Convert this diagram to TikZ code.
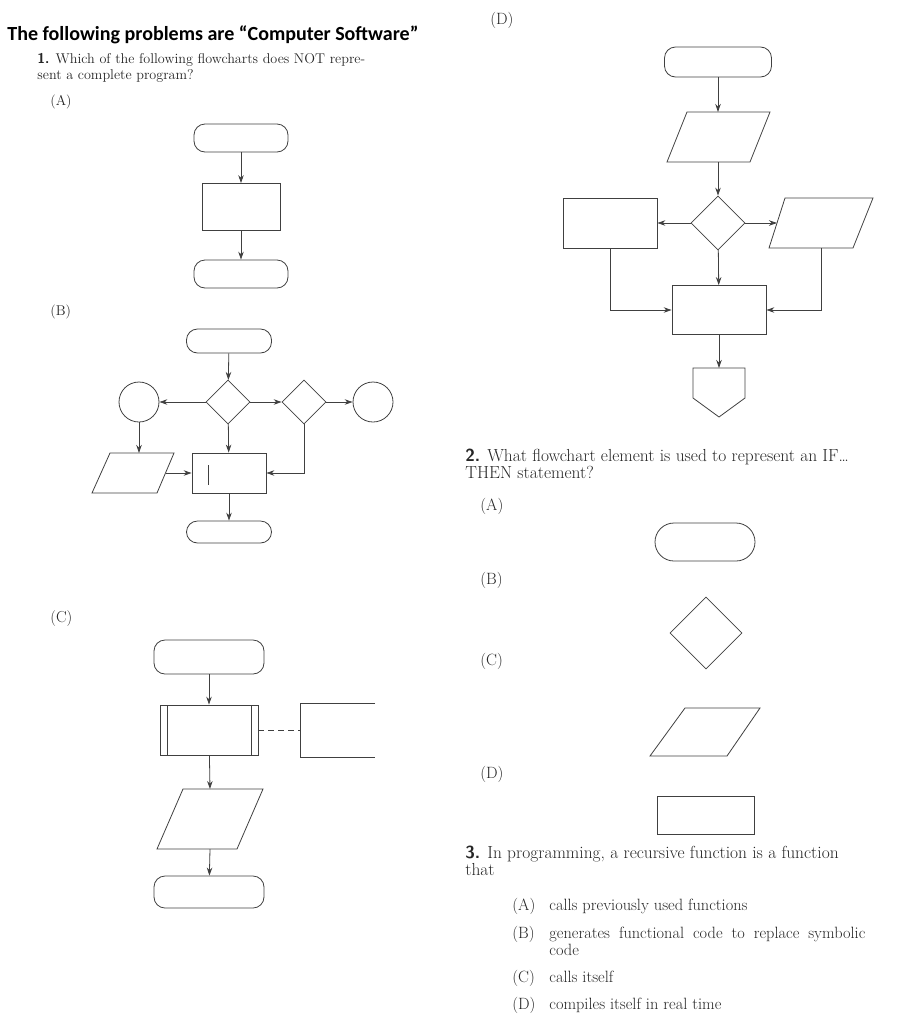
\documentclass[tikz,border=0pt]{standalone}
\usepackage{fontspec}
\newfontfamily\titlefont{Carlito}
\usetikzlibrary{arrows.meta,shapes.geometric}
\begin{document}
\begin{tikzpicture}[x=1bp,y=-1bp,line width=0.8bp,draw=black!75,
  >={Stealth[length=8bp,width=5.5bp]},
  txt/.style={anchor=base west,inner sep=0pt,font=\fontsize{14.2}{16}\selectfont,text=black!85},
  rtxt/.style={anchor=base west,inner sep=0pt,font=\fontsize{16.4}{18}\selectfont,text=black!85},
  qtxt/.style={anchor=base west,inner sep=0pt,font=\fontsize{17.5}{19}\selectfont,text=black!85},
  term/.style={draw,rounded corners=11bp,minimum width=#1,inner sep=0pt},
  box/.style={draw,inner sep=0pt},
  dia/.style={draw,diamond,inner sep=0pt,minimum width=#1,minimum height=#1},
  circ/.style={draw,circle,inner sep=0pt,minimum size=40bp}]
\useasboundingbox (0,0) rectangle (899,1024);
% texts
\node[anchor=base west,inner sep=0pt,font=\titlefont\bfseries\fontsize{20.1}{22}\selectfont] (title) at (7,40) {The following problems are “Computer Software”};
\node[txt] (q1a) at (37,63) {\textsf{\bfseries 1.} Which of the following flowcharts does NOT repre-};
\node[txt] (q1b) at (37,79) {sent a complete program?};
\node[txt] (la) at (50,105) {(A)};
\node[txt] (lb) at (50,315) {(B)};
\node[txt,font=\fontsize{16}{18}\selectfont] (lc) at (50,622) {(C)};
\node[rtxt] (ld) at (490,24) {(D)};
\node[qtxt] (q2a) at (465,461) {\textsf{\bfseries 2.} What flowchart element is used to represent an IF\ldots};
\node[qtxt] (q2b) at (465,478) {THEN statement?};
\node[rtxt] (r2a) at (480,510) {(A)};
\node[rtxt] (r2b) at (480,584) {(B)};
\node[rtxt] (r2c) at (480,665) {(C)};
\node[rtxt] (r2d) at (480,778) {(D)};
\node[qtxt] (q3a) at (465,858) {\textsf{\bfseries 3.} In programming, a recursive function is a function};
\node[qtxt] (q3b) at (465,875) {that};
\node[rtxt] (o1) at (512,910) {\makebox[37bp][l]{(A)}calls previously used functions};
\node[rtxt] (o2) at (512,938) {\makebox[37bp][l]{(B)}\makebox[316bp][s]{generates functional code to replace symbolic}};
\node[rtxt] (o2b) at (549,955) {code};
\node[rtxt] (o3) at (512,982) {\makebox[37bp][l]{(C)}calls itself};
\node[rtxt] (o4) at (512,1009) {\makebox[37bp][l]{(D)}compiles itself in real time};
% (A)
\node[term=94bp,minimum height=28bp] (a1) at (241,138) {};
\node[box,minimum width=78bp,minimum height=47bp] (a2) at (241,207) {};
\node[term=94bp,minimum height=28bp] (a3) at (241,274) {};
\draw[->] (a1) -- (a2); \draw[->] (a2) -- (a3);
% (B)
\node[term=85bp,minimum height=24bp] (b1) at (229,341) {};
\node[dia=44bp] (bd1) at (228,402) {};
\node[dia=44bp] (bd2) at (304,402) {};
\node[circ] (bc1) at (139,402) {};
\node[circ] (bc2) at (373,402) {};
\node[box,minimum width=74bp,minimum height=40bp] (br) at (229,473) {};
\node[term=85bp,minimum height=22bp] (b2) at (229,532) {};
\draw (92,493) -- (110,453) -- (174,453) -- (157,493) -- cycle;
\draw (208,465) -- (208,485);
\draw[->] (b1) -- (bd1);
\draw[->] (bd1) -- (bc1);
\draw[->] (bd1) -- (bd2);
\draw[->] (bd2) -- (bc2);
\draw[->] (bd1) -- (br);
\draw[->] (bc1) -- (bc1 |- 0,453);
\draw[->] (166,473) -- (br.west);
\draw[->] (bd2.south) |- (br.east);
\draw[->] (br) -- (b2);
% (C)
\node[term=110bp,minimum height=34bp] (c1) at (209,657) {};
\node[box,minimum width=98bp,minimum height=50bp] (c2) at (209,730) {};
\draw (167,705) -- (167,755) (251,705) -- (251,755);
\draw (375,703) -- (300,703) -- (300,757) -- (375,757);
\draw[dashed,dash pattern=on 6bp off 4bp] (c2.east) -- (300,730);
\draw (157,849) -- (183,789) -- (263,789) -- (237,849) -- cycle;
\coordinate (cpt) at (210,789);
\coordinate (cpb) at (210,849);
\node[term=110bp,minimum height=32bp] (c3) at (209,892) {};
\draw[->] (c1) -- (c2);
\draw[->] (c2) -- (cpt);
\draw[->] (cpb) -- (c3);
% (D)
\node[term=107bp,minimum height=30bp] (d1) at (718,62) {};
\draw (667,162) -- (687,112) -- (770,112) -- (750,162) -- cycle;
\coordinate (dpt) at (718,112); \coordinate (dpb) at (718,162);
\node[dia=54bp] (dd) at (718,223) {};
\node[box,minimum width=94bp,minimum height=50bp] (dl) at (610,223) {};
\draw (769,248) -- (785,198) -- (873,198) -- (853,248) -- cycle;
\coordinate (drw) at (777,223);
\node[box,minimum width=94bp,minimum height=49bp] (dm) at (719,310) {};
\draw (693,368) -- (745,368) -- (745,398) -- (719,417) -- (693,398) -- cycle;
\coordinate (dpent) at (719,368);
\draw[->] (d1) -- (dpt);
\draw[->] (dpb) -- (dd);
\draw[->] (dd) -- (dl);
\draw[->] (dd) -- (drw);
\draw[->] (dd) -- (dm);
\draw[->] (dl.south) |- (dm.west);
\draw[->] (821,248) |- (dm.east);
\draw[->] (dm) -- (dpent);
% Q2 shapes
\node[term=100bp,minimum height=38bp,rounded corners=19bp] (s1) at (705,542) {};
\node[dia=72bp] (s2) at (706,633) {};
\draw (650,756) -- (685,708) -- (760,708) -- (727,756) -- cycle;
\node[box,minimum width=97bp,minimum height=38bp] (s4) at (706,815) {};
\end{tikzpicture}
\end{document}
